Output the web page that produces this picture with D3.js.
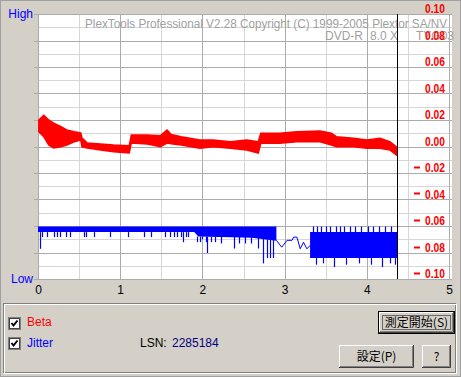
<!DOCTYPE html>
<html lang="ja">
<head>
<meta charset="UTF-8">
<title>PlexTools Beta / Jitter</title>
<script src="https://d3js.org/d3.v7.min.js"></script>
<style>
    body { margin: 0; background: #d4d0c8; }
    svg { display: block; font-family: "Liberation Sans", Arial, sans-serif; }
    .axis text { font-size: 12px; fill: #000; }
</style>
</head>
<body>
<div id="container"></div>
<script>
// ---- data ----
// x positions in GB, beta in the right-hand scale
const betaX  = [0.01,0.07,0.13,0.19,0.28,0.35,0.44,0.52,0.535,0.60,0.76,0.92,1.11,1.135,1.33,1.49,1.57,1.62,1.74,1.97,2.13,2.34,2.54,2.68,2.71,2.94,3.15,3.43,3.57,3.63,3.84,4.00,4.16,4.28,4.36];
const betaHi = [0.020,0.0235,0.020,0.0177,0.0149,0.0125,0.0112,0.0102,0.0064,0.0026,0.0019,0.0011,0.0006,0.0087,0.0087,0.0082,0.0125,0.0090,0.0074,0.0049,0.0049,0.0036,0.0049,0.0036,0.0100,0.0100,0.0112,0.0117,0.0100,0.0074,0.0062,0.0049,0.0062,0.0036,-0.0002];
const betaLo = [0.0112,0.0074,0.0011,-0.0011,-0.0002,0.0011,0.0036,0.0049,-0.0002,-0.0011,-0.0026,-0.0039,-0.0049,0.0026,0.0019,-0.0002,0.0026,0.0020,0.0011,-0.0014,-0.0002,-0.0014,-0.0026,-0.0049,0.0024,0.0024,0.0036,0.0036,0.0011,-0.0002,-0.0002,-0.0014,-0.0014,-0.0026,-0.0064];

// jitter on the Low(0) .. High(100) scale
const jitterBandX  = [0.00,1.90,1.95,2.60,2.90];
const jitterBandHi = [19.8,19.8,19.8,19.8,19.8];
const jitterBandLo = [17.7,17.7,16.0,15.6,14.4];

const jitterBand2X  = [3.31,4.37];
const jitterBand2Hi = [17.7,17.7];
const jitterBand2Lo = [7.9,7.9];

const jitterLineX = [2.90,2.965,3.03,3.09,3.11,3.15,3.19,3.23,3.27,3.31];
const jitterLineY = [14.6,12.0,14.6,14.6,15.8,15.8,11.4,13.9,11.4,12.6];

const spikeX  = [0.024,0.05,0.105,0.20,0.235,0.27,0.34,0.39,0.56,0.59,0.68,0.88,1.10,1.29,1.37,1.55,1.61,1.65,1.69,1.74,1.76,1.80,1.82,1.94,1.97,2.00,2.04,2.06,2.10,2.15,2.23,2.38,2.44,2.52,2.59,2.68,2.74,2.78,2.82,2.86,
                 3.35,3.40,3.44,3.50,3.55,3.62,3.68,3.72,3.80,3.86,3.93,4.02,4.08,4.15,4.22,4.30,
                 3.38,3.47,3.60,3.75,3.90,4.05,4.18,4.28,4.34];
const spikeHi = [17.7,17.7,17.7,17.7,17.7,17.7,17.7,17.7,17.7,17.7,17.7,17.7,17.7,17.7,17.7,17.7,17.7,17.7,17.7,17.7,17.7,17.7,17.7,16.0,16.0,16.0,16.0,16.0,16.0,16.0,16.0,16.0,16.0,16.0,16.0,16.0,16.0,16.0,16.0,16.0,
                 19.8,19.8,19.8,19.8,19.8,19.8,19.8,19.8,19.8,19.8,19.8,19.8,19.8,19.8,19.8,19.8,
                 7.9,7.9,7.9,7.9,7.9,7.9,7.9,7.9,7.9];
const spikeLo = [11.4,15.8,15.8,15.8,15.8,15.8,15.8,15.8,15.8,15.8,15.8,15.8,15.8,15.8,15.8,15.8,15.8,15.8,15.8,15.8,13.9,15.8,15.8,13.9,13.9,15.0,13.9,9.8,13.9,13.9,13.4,11.5,13.4,13.4,13.4,11.5,5.9,7.9,7.9,7.9,
                 17.7,17.7,17.7,17.7,17.7,17.7,17.7,17.7,17.7,17.7,17.7,17.7,17.7,17.7,17.7,17.7,
                 5.4,5.9,4.5,5.4,5.9,5.4,4.5,5.9,5.4];

const xTicks = [0,1,2,3,4,5];
const betaTicks = [0.10,0.08,0.06,0.04,0.02,0.00,-0.02,-0.04,-0.06,-0.08,-0.10];
const cursorPos = 4.37;
const lsn = "2285184";
const discInfo = ['DVD-R', '8.0 X', 'TYG03'];

// ---- setup ----
const W = 461, H = 377;
const svg = d3.select('#container').append('svg')
    .attr('width', W).attr('height', H);

const x = d3.scaleLinear().domain([0, 5]).range([38, 449]);
const y = d3.scaleLinear().domain([-0.10, 0.10]).range([279, 14]);
const yj = d3.scaleLinear().domain([0, 100]).range([279, 14]);

// window frame
svg.append('rect').attr('x', 0.5).attr('y', 0.5).attr('width', W - 1).attr('height', H - 1)
    .attr('fill', '#d4d0c8').attr('stroke', '#a0a0a0');

// plot area
svg.append('rect').attr('x', 38).attr('y', 14).attr('width', 414).attr('height', 265)
    .attr('fill', '#fff');

// minor grid
const minorY = d3.range(-0.09, 0.10, 0.02);
svg.append('g').selectAll('line').data(minorY).enter().append('line')
    .attr('x1', 38).attr('x2', 452)
    .attr('y1', d => Math.round(y(d)) + 0.5).attr('y2', d => Math.round(y(d)) + 0.5)
    .attr('stroke', '#d6d6d6');
svg.append('g').selectAll('line').data([0.5, 1.5, 2.5, 3.5, 4.5]).enter().append('line')
    .attr('y1', 14).attr('y2', 279)
    .attr('x1', d => Math.round(x(d)) + 0.5).attr('x2', d => Math.round(x(d)) + 0.5)
    .attr('stroke', '#d6d6d6');

// major grid
svg.append('g').selectAll('line').data(betaTicks).enter().append('line')
    .attr('x1', 34).attr('x2', 452)
    .attr('y1', d => Math.round(y(d)) + 0.5).attr('y2', d => Math.round(y(d)) + 0.5)
    .attr('stroke', '#ababab');
svg.append('g').selectAll('line').data(xTicks).enter().append('line')
    .attr('y1', 14).attr('y2', 279)
    .attr('x1', d => Math.round(x(d)) + 0.5).attr('x2', d => Math.round(x(d)) + 0.5)
    .attr('stroke', '#ababab');

// header text
svg.append('text').attr('x', 447).attr('y', 28).attr('text-anchor', 'end')
    .attr('font-size', 12.5).attr('fill', '#a0a0a0')
    .attr('textLength', 362).attr('lengthAdjust', 'spacingAndGlyphs')
    .text('PlexTools Professional V2.28 Copyright (C) 1999-2005 Plextor SA/NV');
svg.append('g').selectAll('text').data(discInfo).enter().append('text')
    .attr('x', (d, i) => [325, 370, 416][i]).attr('y', 40)
    .attr('font-size', 12).attr('fill', '#a0a0a0')
    .text(d => d);

// beta band
const betaData = betaX.map((d, i) => ({x: d, hi: betaHi[i], lo: betaLo[i]}));
svg.append('path').datum(betaData)
    .attr('d', d3.area().x(d => x(d.x)).y0(d => y(d.lo)).y1(d => y(d.hi)))
    .attr('fill', '#ff0000').attr('stroke', '#ff0000').attr('stroke-width', 1.5);

// jitter bands
const bandA = jitterBandX.map((d, i) => ({x: d, hi: jitterBandHi[i], lo: jitterBandLo[i]}));
const bandB = jitterBand2X.map((d, i) => ({x: d, hi: jitterBand2Hi[i], lo: jitterBand2Lo[i]}));
const jArea = d3.area().x(d => x(d.x)).y0(d => yj(d.lo)).y1(d => yj(d.hi));
[bandA, bandB].forEach(b => {
    svg.append('path').datum(b).attr('d', jArea).attr('fill', '#0000ff');
});

const jLine = jitterLineX.map((d, i) => ({x: d, v: jitterLineY[i]}));
svg.append('path').datum(jLine)
    .attr('d', d3.line().x(d => x(d.x)).y(d => yj(d.v)))
    .attr('fill', 'none').attr('stroke', '#0000ff').attr('stroke-width', 1);

svg.append('g').selectAll('line').data(spikeX).enter().append('line')
    .attr('x1', d => Math.round(x(d)) + 0.5).attr('x2', d => Math.round(x(d)) + 0.5)
    .attr('y1', (d, i) => yj(spikeHi[i])).attr('y2', (d, i) => yj(spikeLo[i]))
    .attr('stroke', '#0000ff').attr('stroke-width', 1.2);

// cursor line
svg.append('line')
    .attr('x1', Math.round(x(cursorPos)) + 0.5).attr('x2', Math.round(x(cursorPos)) + 0.5)
    .attr('y1', 14).attr('y2', 279).attr('stroke', '#000');

// right-hand beta labels
const lab = svg.append('g').attr('font-weight', 'bold').attr('font-size', 12).attr('fill', '#ff0000');
lab.selectAll('text.num').data(betaTicks).enter().append('text')
    .attr('class', 'num')
    .attr('x', 445).attr('text-anchor', 'end')
    .attr('y', d => y(d) - 1)
    .attr('textLength', 20).attr('lengthAdjust', 'spacingAndGlyphs')
    .text(d => Math.abs(d).toFixed(2));
lab.selectAll('line').data(betaTicks.filter(d => d < 0)).enter().append('line')
    .attr('x1', 414).attr('x2', 420)
    .attr('y1', d => Math.round(y(d)) - 5.5).attr('y2', d => Math.round(y(d)) - 5.5)
    .attr('stroke', '#ff0000').attr('stroke-width', 2);

// x axis
const xAxis = svg.append('g').attr('class', 'axis')
    .attr('transform', 'translate(0,279)')
    .call(d3.axisBottom(x).tickValues(xTicks).tickSize(0).tickPadding(6).tickFormat(d3.format('d')));
xAxis.select('.domain').remove();

// High / Low
svg.append('text').attr('x', 33).attr('y', 18).attr('text-anchor', 'end')
    .attr('font-size', 12).attr('fill', '#0000ff').text('High');
svg.append('text').attr('x', 33).attr('y', 283).attr('text-anchor', 'end')
    .attr('font-size', 12).attr('fill', '#0000ff').text('Low');

// ---- lower group box ----
svg.append('rect').attr('x', 3.5).attr('y', 303.5).attr('width', 452).attr('height', 69)
    .attr('fill', 'none').attr('stroke', '#808080');
svg.append('rect').attr('x', 4.5).attr('y', 304.5).attr('width', 452).attr('height', 69)
    .attr('fill', 'none').attr('stroke', '#fff');

function checkbox(cx, cy) {
    const g = svg.append('g').attr('transform', `translate(${cx},${cy})`);
    g.append('rect').attr('x', 0.5).attr('y', 0.5).attr('width', 12).attr('height', 12)
        .attr('fill', '#fff').attr('stroke', '#808080');
    g.append('rect').attr('x', 1.5).attr('y', 1.5).attr('width', 10).attr('height', 10)
        .attr('fill', 'none').attr('stroke', '#404040');
    g.append('path').attr('d', 'M3.5,6 L5.5,8.5 L9.5,3.5')
        .attr('fill', 'none').attr('stroke', '#000').attr('stroke-width', 2);
}
checkbox(8, 317);
checkbox(8, 337);

svg.append('text').attr('x', 27).attr('y', 326).attr('font-size', 12).attr('fill', '#ff0000').text('Beta');
svg.append('text').attr('x', 27).attr('y', 347).attr('font-size', 12).attr('fill', '#0000ff').text('Jitter');
svg.append('text').attr('x', 140).attr('y', 347).attr('font-size', 12).attr('fill', '#000').text('LSN:');
svg.append('text').attr('x', 172).attr('y', 347).attr('font-size', 12).attr('fill', '#000080').text(lsn);

function button(bx, by, bw, bh, label, isDefault) {
    const g = svg.append('g').attr('transform', `translate(${bx},${by})`);
    let o = 0;
    if (isDefault) {
        g.append('rect').attr('x', 0.5).attr('y', 0.5).attr('width', bw - 1).attr('height', bh - 1)
            .attr('fill', 'none').attr('stroke', '#000');
        o = 1;
    }
    g.append('path').attr('d', `M${o + 0.5},${bh - o - 1} V${o + 0.5} H${bw - o - 1}`)
        .attr('fill', 'none').attr('stroke', '#fff');
    g.append('path').attr('d', `M${o},${bh - o - 0.5} H${bw - o - 0.5} V${o}`)
        .attr('fill', 'none').attr('stroke', '#404040');
    g.append('path').attr('d', `M${o + 1},${bh - o - 1.5} H${bw - o - 1.5} V${o + 1}`)
        .attr('fill', 'none').attr('stroke', '#808080');
    if (isDefault) {
        g.append('rect').attr('x', 4.5).attr('y', 4.5).attr('width', bw - 9).attr('height', bh - 9)
            .attr('fill', 'none').attr('stroke', '#000').attr('stroke-dasharray', '1,1');
    }
    g.append('text').attr('x', bw / 2).attr('y', bh / 2 + 4.5).attr('text-anchor', 'middle')
        .attr('font-family', '"Noto Sans CJK JP", sans-serif').attr('font-size', 12)
        .attr('fill', '#000').text(label);
}
button(378, 311, 77, 23, '測定開始(S)', true);
button(339, 345, 75, 23, '設定(P)', false);
button(422, 345, 29, 23, '?', false);
</script>
</body>
</html>
